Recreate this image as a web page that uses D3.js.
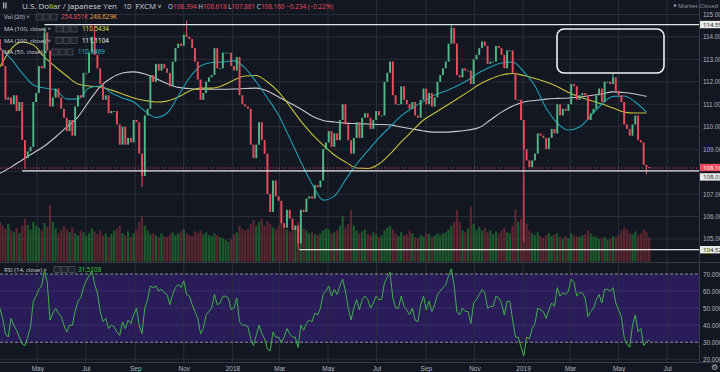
<!DOCTYPE html>
<html lang="en">
<head>
<meta charset="utf-8">
<title>USD/JPY 1D</title>
<script src="https://cdn.jsdelivr.net/npm/d3@7"></script>
<style>
  body { margin: 0; background: #131722; }
  svg { display: block; font-family: "Open Sans", Roboto, sans-serif; }
</style>
</head>
<body>
<script>
// two candles per week, starting mid March 2017
var startDate = Date.UTC(2017, 2, 15);
var barHours = 84;
var firstOpen = 113.9;

var closes = [
  113.4, 112.7, 111.2, 111.3, 111.0, 111.4, 110.7, 111.1, 109.4, 108.6,
  108.9, 109.1, 111.1, 111.5, 112.7, 112.6, 114.2, 113.4, 110.9, 111.3,
  111.7, 111.3, 110.8, 110.4, 109.8, 110.3, 109.6, 110.9, 111.4, 111.3,
  112.4, 112.4, 113.3, 114.0, 113.2, 112.6, 111.9, 111.2, 111.4, 110.6,
  110.7, 110.7, 110.1, 109.2, 110.0, 109.2, 109.5, 109.3, 110.3, 110.2,
  108.8, 107.8, 110.5, 110.8, 112.3, 112.0, 112.8, 112.5, 112.8, 112.6,
  112.4, 111.8, 112.9, 113.5, 113.7, 113.6, 114.1, 114.0, 113.9, 113.5,
  112.9, 112.1, 111.2, 111.5, 112.0, 112.2, 112.3, 113.5, 112.6, 112.6,
  113.3, 113.3, 113.3, 112.7, 112.5, 113.1, 111.4, 111.0, 110.9, 110.8,
  109.2, 108.6, 109.2, 110.2, 109.4, 108.8, 107.0, 106.2, 107.6, 106.9,
  106.7, 105.7, 105.5, 106.3, 105.9, 105.4, 105.6, 104.8, 106.3, 106.2,
  106.8, 106.9, 106.8, 107.4, 107.3, 107.6, 109.0, 109.3, 109.8, 109.1,
  109.7, 109.4, 110.3, 111.0, 110.1, 109.4, 108.8, 109.5, 110.2, 109.5,
  110.4, 110.6, 110.4, 109.9, 110.3, 110.7, 110.5, 110.5, 112.0, 112.4,
  112.9, 111.4, 111.0, 111.0, 111.8, 111.2, 111.0, 110.8, 111.1, 110.5,
  110.4, 111.2, 111.7, 111.0, 111.5, 110.9, 111.3, 112.0, 112.3, 112.6,
  112.9, 113.7, 114.4, 113.7, 112.3, 112.2, 112.6, 112.5, 112.5, 111.9,
  113.0, 113.2, 113.5, 113.8, 113.6, 112.8, 112.9, 112.9, 113.6, 113.5,
  113.2, 112.6, 113.4, 113.4, 112.4, 111.2, 111.2, 110.3, 109.0, 108.5,
  108.2, 108.5, 108.8, 109.7, 109.6, 109.5, 109.0, 109.5, 109.9, 109.7,
  111.0, 110.5, 110.8, 110.7, 111.0, 111.9, 111.8, 111.2, 111.4, 111.5,
  111.4, 110.3, 110.6, 110.8, 111.4, 111.7, 111.1, 112.0, 112.0, 111.9,
  112.2, 111.6, 111.4, 111.1, 110.1, 109.9, 109.6, 110.1, 110.5, 109.4,
  109.3, 108.3, 108.2, 108.16
];

// volume in thousands
var volumes = [
  420, 380, 350, 400, 330, 310, 360, 300, 380, 450,
  390, 340, 420, 380, 360, 330, 410, 370, 600, 420,
  350, 300, 330, 380, 340, 310, 360, 300, 280, 330,
  310, 270, 300, 350, 320, 290, 330, 280, 300, 260,
  290, 330, 350, 380, 300, 280, 320, 260, 300, 340,
  420, 480, 380, 330, 290, 300, 280, 260, 300, 270,
  260, 290, 310, 280, 300, 320, 340, 300, 280, 270,
  320, 300, 330, 290, 310, 280, 270, 300, 280, 260,
  250, 230, 210, 240, 290, 310, 380, 340, 330, 350,
  400, 440, 380, 420, 450, 380, 430, 400, 360, 340,
  380, 420, 360, 340, 310, 330, 360, 420, 400, 350,
  330, 300, 310, 290, 280, 300, 330, 350, 340, 300,
  310, 330, 380, 480, 360, 400, 550, 380, 330, 300,
  320, 340, 300, 280, 310, 290, 260, 280, 330, 360,
  380, 340, 300, 270, 310, 280, 290, 330, 300, 260,
  250, 280, 270, 300, 290, 260, 280, 300, 280, 300,
  310, 340, 380, 420, 550, 420, 330, 310, 350, 580,
  400, 340, 370, 330, 360, 310, 330, 290, 320, 300,
  330, 360, 310, 300, 380, 550, 420, 450, 900, 400,
  330, 300, 280, 310, 270, 250, 280, 300, 270, 290,
  300, 260, 240, 270, 250, 300, 280, 270, 260, 280,
  290, 330, 300, 270, 260, 240, 250, 260, 230, 250,
  270, 260, 280, 330, 360, 340, 300, 290, 320, 280,
  300, 340, 320, 255
];

var rsi = [
  50, 44, 35, 33, 44, 40, 37, 33, 29, 28,
  33, 39, 54, 57, 61, 63, 72, 65, 43, 47,
  50, 47, 45, 40, 36, 40, 40, 48, 54, 56,
  62, 66, 69, 72, 64, 59, 48, 42, 44, 38,
  40, 39, 36, 34, 42, 38, 43, 41, 46, 50,
  40, 35, 50, 55, 63, 62, 63, 60, 61, 59,
  58, 52, 58, 62, 64, 62, 66, 58, 57, 52,
  48, 44, 35, 38, 46, 48, 50, 58, 52, 53,
  57, 57, 56, 49, 50, 56, 42, 40, 40, 39,
  32, 28, 34, 40, 35, 32, 26, 25, 36, 33,
  33, 30, 33, 38, 35, 33, 33, 27, 40, 37,
  41, 43, 42, 47, 46, 50, 58, 60, 63, 57,
  61, 58, 63, 67, 60, 50, 43, 50, 55, 49,
  55, 57, 55, 50, 53, 57, 55, 55, 65, 68,
  71, 56, 50, 50, 57, 51, 49, 46, 50, 43,
  42, 52, 57, 49, 54, 48, 52, 58, 60, 62,
  64, 69, 73, 63, 48, 46, 50, 48, 48, 41,
  53, 55, 58, 61, 59, 50, 51, 51, 57, 56,
  53, 46, 54, 54, 43, 33, 33, 27, 22, 33,
  32, 38, 41, 50, 49, 48, 44, 49, 53, 51,
  62, 57, 59, 58, 60, 67, 65, 57, 59, 59,
  56, 45, 48, 50, 55, 58, 53, 61, 61, 60,
  62, 53, 49, 45, 33, 29, 27, 40, 46, 36,
  38, 28, 30, 31.5
];

// moving averages sampled every two weeks from the start date
var maStepDays = 14;
var ma50 = [
  113.51, 113.02, 112.39, 111.86, 111.72, 111.63, 111.23, 111.23, 111.72, 111.81,
  111.50, 111.28, 111.10, 110.70, 110.41, 110.61, 111.37, 112.17, 112.70, 112.86,
  112.88, 112.93, 112.61, 111.99, 111.28, 110.52, 109.50, 108.43, 107.45, 106.73,
  106.91, 107.63, 108.34, 108.92, 109.50, 109.99, 110.48, 110.83, 111.14, 111.41,
  111.59, 111.81, 112.08, 112.41, 112.66, 112.84, 112.88, 112.44, 111.81, 110.83,
  110.16, 109.85, 109.99, 110.48, 111.01, 111.35, 111.37, 111.10, 110.65
];
var ma100 = [
  112.66, 113.46, 113.77, 113.64, 113.10, 112.66, 112.26, 111.90, 111.81, 111.77,
  111.63, 111.46, 111.28, 111.17, 111.10, 111.14, 111.32, 111.59, 111.72, 111.72,
  111.84, 112.08, 112.26, 112.28, 111.99, 111.55, 110.92, 110.25, 109.67, 109.18,
  108.74, 108.43, 108.16, 108.14, 108.34, 108.78, 109.32, 109.81, 110.30, 110.61,
  110.92, 111.23, 111.55, 111.88, 112.12, 112.30, 112.37, 112.28, 112.15, 111.99,
  111.79, 111.52, 111.32, 111.17, 111.01, 110.83, 110.65, 110.61, 110.61
];
var ma200 = [
  107.92, 108.20, 108.52, 108.83, 109.14, 109.54, 109.99, 110.43, 111.14, 111.79,
  112.17, 112.39, 112.44, 112.35, 112.15, 111.92, 111.75, 111.70, 111.67, 111.67,
  111.67, 111.68, 111.70, 111.72, 111.59, 111.32, 111.06, 110.79, 110.48, 110.28,
  110.21, 110.16, 110.14, 110.12, 110.10, 110.08, 109.99, 109.90, 109.81, 109.76,
  109.76, 109.79, 109.85, 109.96, 110.30, 110.65, 110.92, 111.10, 111.17, 111.23,
  111.26, 111.28, 111.32, 111.39, 111.46, 111.55, 111.52, 111.46, 111.35
];

// extreme wicks worth showing
var wickDates = ["2017-04-17", "2017-05-10", "2017-07-11", "2017-09-08", "2017-11-06",
                 "2018-03-26", "2018-10-04", "2019-01-03", "2019-04-24", "2019-06-04"];
var wickPrices = [108.13, 114.37, 114.49, 107.32, 114.73, 104.56, 114.55, 104.87, 112.4, 107.88];

var tickDates = ["2017-05-01", "2017-07-01", "2017-09-01", "2017-11-01", "2018-01-01", "2018-03-01",
                 "2018-05-01", "2018-07-01", "2018-09-01", "2018-11-01", "2019-01-01", "2019-03-01",
                 "2019-05-01", "2019-07-01"];
var tickLabels = ["May", "Jul", "Sep", "Nov", "2018", "Mar", "May", "Jul", "Sep", "Nov", "2019", "Mar", "May", "Jul"];
var priceTicks = [105, 106, 107, 108, 109, 110, 111, 112, 113, 114, 115];
var rsiTicks = [20, 30, 40, 50, 60, 70];

// horizontal rays drawn on the chart
var levelPrices = [114.55, 108.031, 104.521];
var levelFrom = ["2017-05-10", "2017-04-12", "2018-03-26"];
var lastPrice = 108.16;

var W = 720, H = 372, plotRight = 699;
var upColor = "#53b987", downColor = "#eb4d5c";

var parse = d3.utcParse("%Y-%m-%d");
var x = d3.scaleUtc()
  .domain([parse("2017-05-01"), parse("2019-03-01")])
  .range([37.3, 570]);
var y = d3.scaleLinear().domain([104, 115]).range([261.4, 14.45]);
var yVol = d3.scaleLinear().domain([0, 1000]).range([261.7, 167]);
var yRsi = d3.scaleLinear().domain([20, 70]).range([359.3, 274]);

var bars = closes.map(function(c, i) {
  return {
    date: new Date(startDate + i * barHours * 3600e3),
    open: i === 0 ? firstOpen : closes[i - 1],
    close: c,
    vol: volumes[i],
    rsi: rsi[i]
  };
});
function maData(arr) {
  return arr.map(function(v, k) {
    return {date: new Date(startDate + k * maStepDays * 864e5), v: v};
  });
}

var svg = d3.select("body").append("svg").attr("width", W).attr("height", H);
svg.append("rect").attr("width", W).attr("height", H).attr("fill", "#131722");

var defs = svg.append("defs");
defs.append("clipPath").attr("id", "pricePane")
  .append("rect").attr("x", 0).attr("y", 0).attr("width", plotRight).attr("height", 262);
defs.append("clipPath").attr("id", "rsiPane")
  .append("rect").attr("x", 0).attr("y", 262).attr("width", plotRight).attr("height", 100);

var gridColor = "#2a2e39";

// rsi band
svg.append("rect")
  .attr("x", 0).attr("width", plotRight)
  .attr("y", yRsi(70)).attr("height", yRsi(30) - yRsi(70))
  .attr("fill", "#2a1b59");

// vertical grid
svg.append("g").selectAll("line").data(tickDates).enter().append("line")
  .attr("x1", function(d) { return x(parse(d)); })
  .attr("x2", function(d) { return x(parse(d)); })
  .attr("y1", 0).attr("y2", 362)
  .attr("stroke", gridColor).attr("stroke-width", 1);

// price grid
svg.append("g").selectAll("line").data(priceTicks).enter().append("line")
  .attr("x1", 0).attr("x2", plotRight)
  .attr("y1", function(d) { return y(d); }).attr("y2", function(d) { return y(d); })
  .attr("stroke", gridColor);

// rsi grid
svg.append("g").selectAll("line").data([20, 40, 50, 60]).enter().append("line")
  .attr("x1", 0).attr("x2", plotRight)
  .attr("y1", function(d) { return yRsi(d); }).attr("y2", function(d) { return yRsi(d); })
  .attr("stroke", function(d) { return d === 20 ? gridColor : "#3b2d6e"; });
svg.append("g").selectAll("line").data([30, 70]).enter().append("line")
  .attr("x1", 0).attr("x2", plotRight)
  .attr("y1", function(d) { return yRsi(d); }).attr("y2", function(d) { return yRsi(d); })
  .attr("stroke", "#8a8d96").attr("stroke-dasharray", "3,2");

// pane borders
svg.append("line").attr("x1", 0).attr("x2", W).attr("y1", 262.5).attr("y2", 262.5).attr("stroke", "#363a45");
svg.append("line").attr("x1", 0).attr("x2", W).attr("y1", 362.5).attr("y2", 362.5).attr("stroke", "#363a45");
svg.append("line").attr("x1", plotRight + 0.5).attr("x2", plotRight + 0.5).attr("y1", 0).attr("y2", 362).attr("stroke", "#363a45");

var price = svg.append("g").attr("clip-path", "url(#pricePane)");

// volume
price.append("g").selectAll("rect").data(bars).enter().append("rect")
  .attr("x", function(d) { return x(d.date) - 1.1; })
  .attr("width", 2.2)
  .attr("y", function(d) { return yVol(d.vol); })
  .attr("height", function(d) { return yVol(0) - yVol(d.vol); })
  .attr("fill", function(d) { return d.close >= d.open ? "#1f6b2e" : "#6e2a35"; })
  .attr("opacity", 0.8);

// moving averages
var maLine = d3.line()
  .x(function(d) { return x(d.date); })
  .y(function(d) { return y(d.v); })
  .curve(d3.curveMonotoneX);
[[ma200, "#c8c9cc"], [ma100, "#c4c23a"], [ma50, "#1e9fb0"]].forEach(function(m) {
  price.append("path").datum(maData(m[0]))
    .attr("d", maLine).attr("fill", "none")
    .attr("stroke", m[1]).attr("stroke-width", 1.1);
});

// candles
price.append("g").selectAll("rect").data(bars).enter().append("rect")
  .attr("x", function(d) { return x(d.date) - 0.95; })
  .attr("width", 1.9)
  .attr("y", function(d) { return y(Math.max(d.open, d.close)); })
  .attr("height", function(d) { return Math.max(0.8, Math.abs(y(d.open) - y(d.close))); })
  .attr("fill", function(d) { return d.close >= d.open ? upColor : downColor; });

// long wicks
wickDates.forEach(function(ds, j) {
  var i = Math.round((parse(ds) - startDate) / (barHours * 3600e3));
  var b = bars[Math.max(0, Math.min(bars.length - 1, i))];
  var p = wickPrices[j];
  var edge = p > b.close ? Math.max(b.open, b.close) : Math.min(b.open, b.close);
  price.append("line")
    .attr("x1", x(b.date)).attr("x2", x(b.date))
    .attr("y1", y(edge)).attr("y2", y(p))
    .attr("stroke", b.close >= b.open ? upColor : downColor).attr("stroke-width", 1);
});

// last price line
price.append("line")
  .attr("x1", 0).attr("x2", plotRight)
  .attr("y1", y(lastPrice)).attr("y2", y(lastPrice))
  .attr("stroke", downColor).attr("stroke-dasharray", "1,2").attr("stroke-width", 1);

// rays
levelPrices.forEach(function(p, j) {
  price.append("line")
    .attr("x1", x(parse(levelFrom[j]))).attr("x2", plotRight)
    .attr("y1", y(p)).attr("y2", y(p))
    .attr("stroke", "#e6e6e6").attr("stroke-width", 1.3);
});

// drawn box
svg.append("rect")
  .attr("x", 557).attr("y", 29).attr("width", 107).attr("height", 44)
  .attr("rx", 7).attr("fill", "none")
  .attr("stroke", "#f2f2f2").attr("stroke-width", 1.6);

// rsi line
svg.append("g").attr("clip-path", "url(#rsiPane)")
  .append("path").datum(bars)
  .attr("d", d3.line().x(function(d) { return x(d.date); }).y(function(d) { return yRsi(d.rsi); }))
  .attr("fill", "none").attr("stroke", "#3fb447").attr("stroke-width", 1);

// time axis
var xAxis = svg.append("g").attr("transform", "translate(0,363)")
  .call(d3.axisBottom(x).tickValues(tickDates.map(parse))
    .tickFormat(function(d, i) { return tickLabels[i]; }).tickSize(0).tickPadding(3));
xAxis.select(".domain").remove();
xAxis.selectAll("text").attr("fill", "#b2b5be").attr("font-size", 6.5);

// price labels on the axis
var tags = [
  {p: 114.55, text: "114.550", bg: "#e8e8e8", fg: "#131722", shift: 0},
  {p: lastPrice, text: "108.160", bg: downColor, fg: "#ffffff", shift: -0.5},
  {p: 108.031, text: "108.031", bg: "#e8e8e8", fg: "#131722", shift: 6},
  {p: 104.521, text: "104.521", bg: "#e8e8e8", fg: "#131722", shift: 0}
];

// price axis (labels run past the right edge, as in the original); ticks under a tag are hidden
var labelTicks = priceTicks.filter(function(v) {
  return tags.every(function(t) { return Math.abs(y(v) - y(t.p) - t.shift) > 7; });
});
var yAxis = svg.append("g").attr("transform", "translate(" + (plotRight + 4) + ",0)")
  .call(d3.axisRight(y).tickValues(labelTicks).tickFormat(d3.format(".3f")).tickSize(0).tickPadding(0));
yAxis.select(".domain").remove();
yAxis.selectAll("text").attr("fill", "#b2b5be").attr("font-size", 6.3);

var rAxis = svg.append("g").attr("transform", "translate(" + (plotRight + 4) + ",0)")
  .call(d3.axisRight(yRsi).tickValues(rsiTicks).tickFormat(d3.format(".4f")).tickSize(0).tickPadding(0));
rAxis.select(".domain").remove();
rAxis.selectAll("text").attr("fill", "#b2b5be").attr("font-size", 6.3);

tags.forEach(function(t) {
  var cy = y(t.p) + t.shift;
  svg.append("rect").attr("x", plotRight + 1).attr("y", cy - 3.7).attr("width", 22).attr("height", 7.4).attr("fill", t.bg);
  svg.append("text").attr("x", plotRight + 4).attr("y", cy + 2.1)
    .attr("font-size", 6.1).attr("fill", t.fg).text(t.text);
});

// gear at corner
svg.append("text").attr("x", 711).attr("y", 370).attr("font-size", 8).attr("fill", "#b2b5be")
  .attr("font-family", "DejaVu Sans").text("\u2699");

// legend
var legend = svg.append("g");
legend.append("rect").attr("x", 3).attr("y", 2.5).attr("width", 1.3).attr("height", 6).attr("fill", "#b2b5be");
legend.append("rect").attr("x", 5.3).attr("y", 2.5).attr("width", 1.3).attr("height", 6).attr("fill", "#b2b5be");
legend.append("text").attr("x", 22).attr("y", 9.2).attr("font-size", 7.2).attr("fill", "#d1d4dc")
  .attr("textLength", 95).attr("lengthAdjust", "spacingAndGlyphs")
  .text("U.S. Dollar / Japanese Yen");
legend.append("text").attr("x", 123.5).attr("y", 9.2).attr("font-size", 7.6).attr("fill", "#d1d4dc")
  .attr("textLength", 8).attr("lengthAdjust", "spacingAndGlyphs").text("1D");
legend.append("text").attr("x", 135.5).attr("y", 9.2).attr("font-size", 7.6).attr("fill", "#d1d4dc")
  .attr("textLength", 20.5).attr("lengthAdjust", "spacingAndGlyphs").text("FXCM");
legend.append("text").attr("x", 157.5).attr("y", 9.2).attr("font-size", 7).attr("fill", "#d1d4dc").text("\u02c5");
var ohlc = legend.append("text").attr("x", 168).attr("y", 8.8).attr("font-size", 6.4);
[["O", "108.394"], ["H", "108.618"], ["L", "107.881"], ["C", "108.160"]].forEach(function(p) {
  ohlc.append("tspan").attr("fill", "#d1d4dc").text(p[0]);
  ohlc.append("tspan").attr("fill", downColor).text(p[1] + " ");
});
ohlc.append("tspan").attr("fill", downColor).text("\u22120.234 (\u22120.22%)");

legend.append("circle").attr("cx", 675).attr("cy", 5.5).attr("r", 1.3).attr("fill", "#9598a1");
legend.append("text").attr("x", 678).attr("y", 7.6).attr("font-size", 6).attr("fill", "#9598a1").text("Market Closed");

function icons(x0, y0) {
  for (var k = 0; k < 3; k++) {
    legend.append("rect").attr("x", x0 + k * 7.5).attr("y", y0 - 3).attr("width", 6).attr("height", 6)
      .attr("fill", "#1e222d").attr("stroke", "#5d606b").attr("stroke-width", 0.6);
  }
}
var rows = [
  {y: 17, name: "Vol (20) \u02c5", ix: 36, vals: [["254.851K", downColor], ["248.629K", "#f6a540"]], vx: 61},
  {y: 29, name: "MA (100, close) \u02c5", ix: 56, vals: [["110.5434", "#e5e63b"]], vx: 82},
  {y: 40.5, name: "MA (200, close) \u02c5", ix: 56, vals: [["111.1104", "#ffffff"]], vx: 82},
  {y: 52, name: "MA (50, close) \u02c5", ix: 52, vals: [["110.5469", "#2ac0d6"]], vx: 78}
];
rows.forEach(function(r) {
  legend.append("text").attr("x", 4).attr("y", r.y + 2.2).attr("font-size", 6).attr("fill", "#d1d4dc").text(r.name);
  icons(r.ix, r.y);
  var t = legend.append("text").attr("x", r.vx).attr("y", r.y + 2.2).attr("font-size", 6.3);
  r.vals.forEach(function(v) { t.append("tspan").attr("fill", v[1]).text(v[0] + "  "); });
});
legend.append("text").attr("x", 4).attr("y", 271.5).attr("font-size", 6).attr("fill", "#d1d4dc").text("RSI (14, close) \u02c5");
icons(54, 269.3);
legend.append("text").attr("x", 78).attr("y", 271.5).attr("font-size", 6.3).attr("fill", "#3fd04a").text("31.5108");
</script>
</body>
</html>
